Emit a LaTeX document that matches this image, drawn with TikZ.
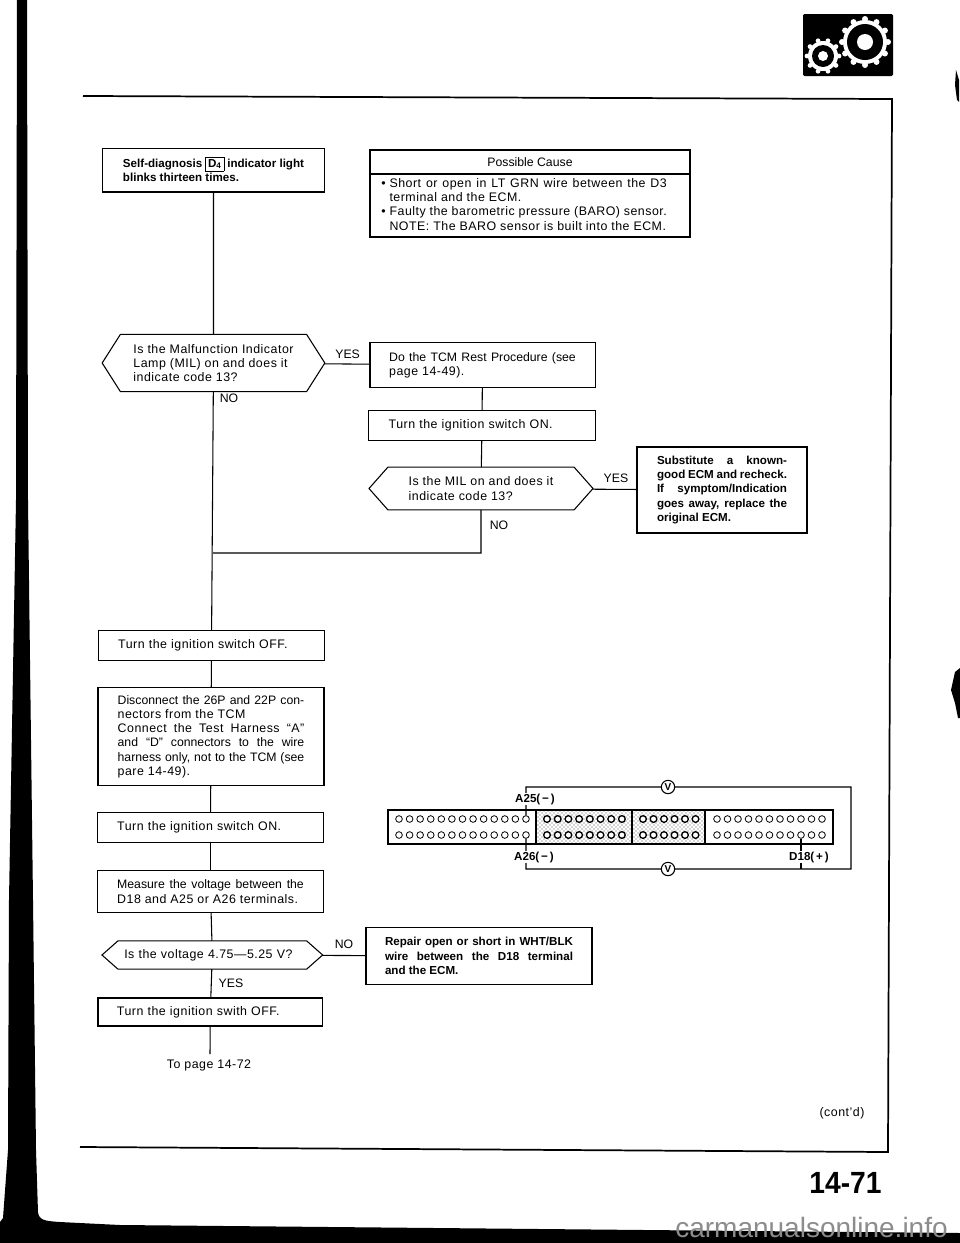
\documentclass[tikz,border=0pt]{standalone}
\usepackage{graphicx}
\usepackage{fontspec}
\setmainfont{Liberation Sans}[LetterSpace=4]
\newfontfamily\plainf{Liberation Sans}[Ligatures=TeX]
\usetikzlibrary{shapes.symbols,patterns}
\newcommand{\FB}{\fontsize{9.3}{10.7}\selectfont}
\newcommand{\FP}{\plainf\fontsize{9.2}{10.7}\selectfont}
\newcommand{\FBB}{\plainf\fontsize{8.7}{10.7}\selectfont\bfseries}
\newcommand{\JL}[2]{\makebox[#1][s]{#2}}

\begin{document}
\begin{tikzpicture}[x=0.75pt,y=-0.75pt]
\tikzstyle{box}=[draw,line width=0.8pt,inner sep=0pt,outer sep=0pt,align=left,font=\FB]
\tikzstyle{hexa}=[box,shape=signal,signal to=west and east]
\tikzstyle{boldbox}=[box,font=\FBB]
\tikzstyle{line}=[line width=0.8pt]
\tikzstyle{texto}=[inner sep=0pt,font=\FB]
\tikzstyle{answer}=[inner sep=0pt,font=\FP]
\tikzstyle{pinlabel}=[fill=white,inner sep=0.5pt,font=\FBB]
\tikzstyle{pinhole}=[draw,circle,fill=white,inner sep=0pt,minimum size=5pt,line width=0.6pt]
\tikzstyle{darkhole}=[pinhole,line width=1pt]
\tikzstyle{meter}=[draw,circle,fill=white,inner sep=0pt,minimum size=10pt,line width=0.8pt,font=\plainf\fontsize{7.5}{8}\selectfont\bfseries]

\useasboundingbox (0,0) rectangle (960,1243);

% page edge
\fill (17,0) -- (27,0) -- (28,500) -- (33,900) -- (36,1150) -- (38,1212) .. controls (39,1220) and (44,1221) .. (60,1222) -- (120,1225) -- (960,1233) -- (960,1243) -- (0,1243) -- (0,1222) -- (3,1218) -- (8,1150) -- (9,900) -- (16,500) -- cycle;
\fill (956,70) -- (959,80) -- (959,102) -- (957,100) -- (955,85) -- cycle;
\fill (960,668) -- (955,672) -- (951,690) -- (955,703) -- (958,718) -- (960,718) -- cycle;

% gears
\fill[rounded corners=1pt] (803,14) rectangle (893,76);
\foreach \a in {0,30,...,330}
  \fill[white] (865,42) ++(\a:23) circle (3);
\foreach \a in {0,36,...,324}
  \fill[white] (823,56) ++(\a:16) circle (2.4);
\fill[white] (865,42) circle (22);
\fill[white] (823,56) circle (15);
\fill (865,42) circle (18);
\fill (823,56) circle (11);
\fill[white] (865,42) circle (8);
\fill[white] (823,56) circle (5);

% frame
\draw[line width=1.3pt] (83,96) -- (892,99) -- (888,1152) -- (80,1147);

% left column
\node[boldbox,minimum width=167pt,minimum height=32.5pt] (selfdiag) at (213.5,170.3)
  {Self-diagnosis \smash{\setlength{\fboxsep}{1.5pt}\fbox{D\textsubscript{4}}} indicator light\\blinks thirteen times.};
\node[hexa,signal pointer angle=115,minimum width=167pt,minimum height=43pt] (milq) at (213.5,363)
  {Is the Malfunction Indicator\\Lamp (MIL) on and does it\\indicate code 13?};
\node[box,text width=140pt,minimum width=169pt,minimum height=22pt] (offa) at (211.5,645.5)
  {Turn the ignition switch OFF.};
\node[box,minimum width=169.5pt,minimum height=74pt] (discon) at (211,736.5)
  {\JL{140pt}{\FP Disconnect the 26P and 22P con-}\\nectors from the TCM\\\JL{140pt}{Connect the Test Harness ``A''}\\\JL{140pt}{\FP and ``D'' connectors to the wire}\\\JL{140pt}{\FP harness only, not to the TCM (see}\\pare 14-49).};
\node[box,text width=140pt,minimum width=169pt,minimum height=22pt] (ona) at (210.5,827.5)
  {Turn the ignition switch ON.};
\node[box,minimum width=169pt,minimum height=32pt] (measure) at (210.5,891.5)
  {\JL{140pt}{\FP Measure the voltage between the}\\D18 and A25 or A26 terminals.};
\node[hexa,text width=132pt,signal pointer angle=83,minimum width=165.5pt,minimum height=21.3pt] (voltq) at (212.3,955)
  {Is the voltage 4.75---5.25 V?};
\node[box,text width=140pt,minimum width=168.5pt,minimum height=21pt] (offb) at (210.3,1012)
  {Turn the ignition swith OFF.};
\coordinate (topage) at (210,1054);
\node[texto] (nextp) at (209,1065) {To page 14-72};

% right column
\node[box,minimum width=240pt,minimum height=65.25pt,anchor=north west] (cause) at (370,150) {};
\coordinate (causel) at (370,174);
\coordinate (causer) at (690,174);
\node[answer] (causeh) at (530,162) {Possible Cause};
\node[texto,align=left,anchor=north west] (causet) at (381,178)
  {\textbullet\ \JL{208pt}{Short or open in LT GRN wire between the D3}\\
   \phantom{\textbullet\ }terminal and the ECM.\\
   \textbullet\ \JL{208pt}{Faulty the barometric pressure (BARO) sensor.}\\
   \phantom{\textbullet\ }NOTE: The BARO sensor is built into the ECM.};
\node[box,minimum width=168.8pt,minimum height=33.5pt] (rest) at (482.5,365)
  {\JL{140pt}{\FP Do the TCM Rest Procedure (see}\\page 14-49).};
\node[box,text width=140pt,minimum width=170pt,minimum height=22pt] (onb) at (482,425.5)
  {Turn the ignition switch ON.};
\node[hexa,signal pointer angle=97,minimum width=168pt,minimum height=32pt] (milb) at (481,488.5)
  {Is the MIL on and does it\\indicate code 13?};
\node[boldbox,minimum width=127.5pt,minimum height=64.5pt] (subst) at (722,490)
  {\JL{97.5pt}{Substitute a known-}\\\JL{97.5pt}{good ECM and recheck.}\\\JL{97.5pt}{If symptom/Indication}\\\JL{97.5pt}{goes away, replace the}\\original ECM.};
\node[boldbox,minimum width=169.5pt,minimum height=42.4pt] (repair) at (479,956)
  {\JL{141pt}{Repair open or short in WHT/BLK}\\\JL{141pt}{wire between the D18 terminal}\\and the ECM.};
\coordinate (joint) at (481,553);
\coordinate (jointl) at (213,553);

% connectors
\draw[line] (selfdiag) -- (milq);
\draw[line] (milq) -- (offa);
\draw[line] (offa) -- (discon);
\draw[line] (discon) -- (ona);
\draw[line] (ona) -- (measure);
\draw[line] (measure) -- (voltq);
\draw[line] (voltq) -- (offb);
\draw[line] (offb) -- (topage);
\draw[line] (milq) -- (rest);
\draw[line] (rest) -- (onb);
\draw[line] (onb) -- (milb);
\draw[line] (milb) -- (subst);
\draw[line] (milb) -- (joint) -- (jointl);
\draw[line] (voltq) -- (repair);
\draw[line] (causel) -- (causer);

\node[answer] (yesa) at (347.6,354) {YES};
\node[answer] (noa) at (229,398) {NO};
\node[answer] (yesb) at (616,478) {YES};
\node[answer] (nob) at (499,525) {NO};
\node[answer] (noc) at (344,944.6) {NO};
\node[answer] (yesc) at (231,983.5) {YES};

% connector block
\fill[pattern=crosshatch dots,pattern color=black!70] (536,810) rectangle (705,844);
\draw[line width=1.2pt] (388,810) rectangle (833,844);
\draw[line width=1.2pt] (536,810) -- (536,844) (632,810) -- (632,844) (705,810) -- (705,844);
\foreach \i in {1,...,13} {
  \node[pinhole] (at\i) at (399+\i*10.58-10.58,819) {};
  \node[pinhole] (ab\i) at (399+\i*10.58-10.58,835) {};
}
\foreach \i in {1,...,8} {
  \node[darkhole] (bt\i) at (547+\i*10.7-10.7,819) {};
  \node[darkhole] (bb\i) at (547+\i*10.7-10.7,835) {};
}
\foreach \i in {1,...,6} {
  \node[darkhole] (ct\i) at (643+\i*10.5-10.5,819) {};
  \node[darkhole] (cb\i) at (643+\i*10.5-10.5,835) {};
}
\foreach \i in {1,...,11} {
  \node[pinhole] (dt\i) at (717+\i*10.5-10.5,819) {};
  \node[pinhole] (db\i) at (717+\i*10.5-10.5,835) {};
}
\node[meter] (vtop) at (668,787) {V};
\node[meter] (vbot) at (668,869) {V};
\coordinate (corna) at (526,787);
\coordinate (cornb) at (851,787);
\coordinate (cornc) at (851,869);
\coordinate (cornd) at (526,869);
\coordinate (corne) at (801,869);
\draw[line] (at13) -- (corna) -- (vtop) -- (cornb) -- (cornc) -- (vbot) -- (cornd) -- (ab13);
\draw[line] (db9) -- (corne);
\node[pinlabel] (lab25) at (535,799) {A25(\,−\,)};
\node[pinlabel] (lab26) at (534,857) {A26(\,−\,)};
\node[pinlabel] (lab18) at (809,857) {D18(\,+\,)};

% page foot
\node[texto] (cont) at (842,1113) {(cont'd)};
\node[texto,font=\plainf\fontsize{23}{26}\selectfont\bfseries] (pageno) at (845.5,1183) {\scalebox{0.92}[1]{14-71}};
\node[texto,font=\plainf\fontsize{21}{24}\selectfont,text=black!45] (mark) at (811.5,1227) {carmanualsonline.info};
\end{tikzpicture}
\end{document}
